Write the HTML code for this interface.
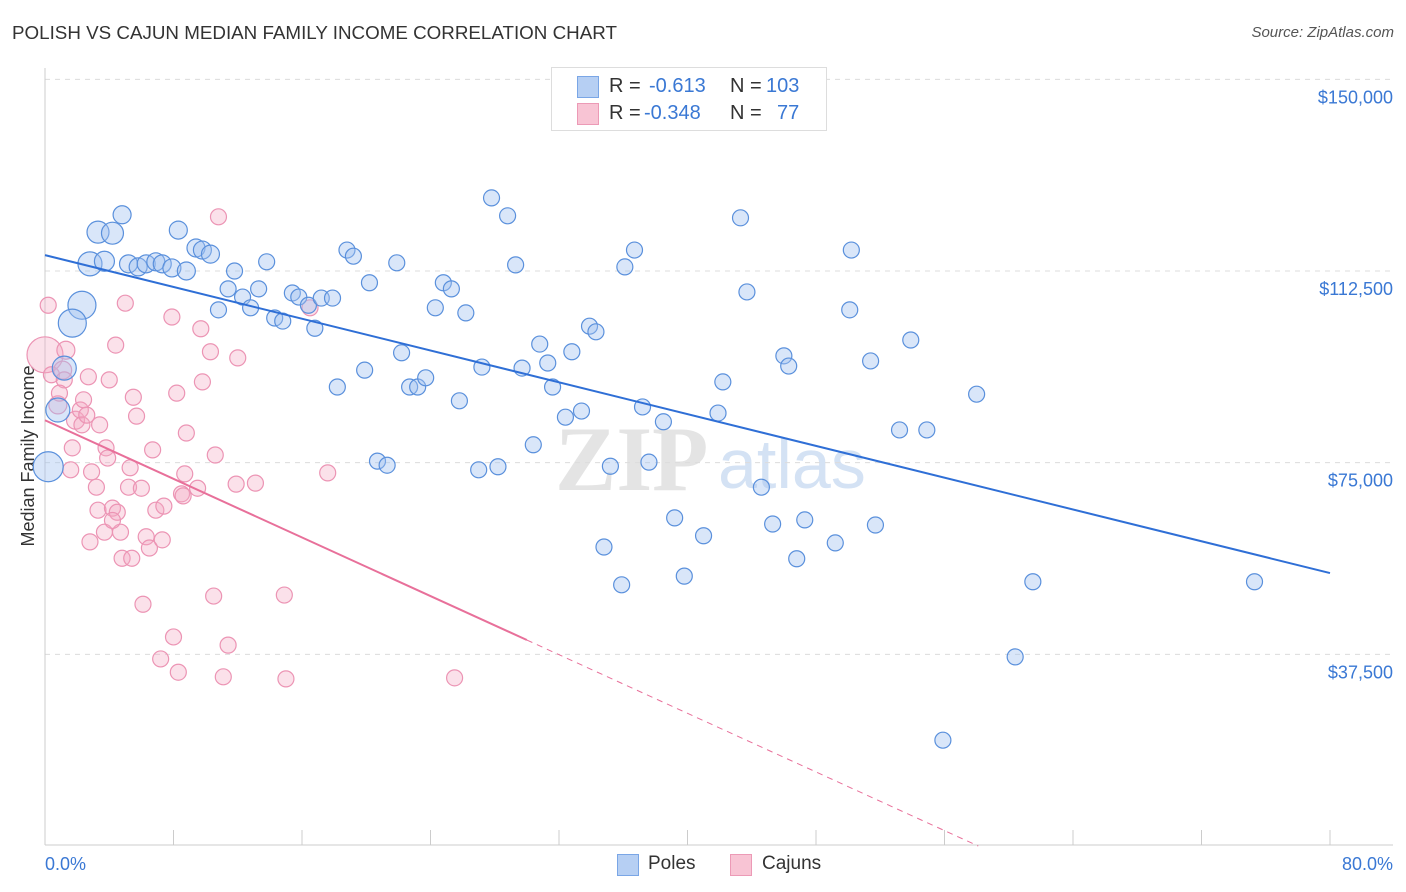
<!DOCTYPE html>
<html><head><meta charset="utf-8"><style>
body{margin:0;background:#fff;font-family:"Liberation Sans",sans-serif;}
#wrap{position:relative;width:1406px;height:892px;overflow:hidden;}
.t{position:absolute;white-space:nowrap;}
</style></head><body><div id="wrap">
<div class="t" style="left:12px;top:22px;font-size:18.8px;color:#333;">POLISH VS CAJUN MEDIAN FAMILY INCOME CORRELATION CHART</div>
<div class="t" style="right:12px;top:24px;font-size:15px;color:#555;font-style:italic;">Source: ZipAtlas.com</div>
<svg id="svg" width="1406" height="892" style="position:absolute;left:0;top:0"></svg>
</div>
<script>
const polesX=[0.2,0.8,1.2,2.3,1.7,2.8,3.3,4.2,3.7,4.8,5.2,5.8,6.3,6.9,7.3,7.9,8.3,8.8,9.4,9.8,10.3,10.8,11.4,11.8,12.3,12.8,13.3,13.8,14.3,14.8,15.4,15.8,16.4,16.8,17.2,17.9,18.2,18.8,19.2,19.9,20.2,20.7,21.3,21.9,22.2,22.7,23.2,23.7,24.3,24.8,25.3,25.8,26.2,27.0,27.2,27.8,28.2,28.8,29.3,29.7,30.4,30.8,31.3,31.6,32.4,32.8,33.4,33.9,34.3,34.8,35.2,35.9,36.1,36.7,37.2,37.6,38.5,39.2,39.8,41.0,41.9,42.2,43.3,43.7,44.6,45.3,46.0,46.3,46.8,47.3,49.2,50.1,50.2,51.4,51.7,53.2,53.9,54.9,55.9,58.0,60.4,61.5,75.3];
const polesY=[74.2,85.3,93.5,105.8,102.3,113.9,120.1,119.9,114.4,123.5,113.9,113.3,113.9,114.3,113.9,113.1,120.5,112.5,117.0,116.6,115.8,104.9,109.0,112.5,107.4,105.3,109.0,114.3,103.3,102.7,108.2,107.4,105.8,101.3,107.2,107.2,89.8,116.6,115.4,93.1,110.2,75.3,74.5,114.1,96.5,89.8,89.8,91.6,105.3,110.2,109.0,87.1,104.3,73.6,93.7,126.8,74.2,123.3,113.7,93.5,78.5,98.2,94.5,89.8,83.9,96.7,85.1,101.7,100.6,58.5,74.3,51.1,113.3,116.6,85.9,75.1,83.0,64.2,52.8,60.7,84.7,90.8,122.9,108.4,70.2,63.0,95.9,93.9,56.2,63.8,59.3,104.9,116.6,94.9,62.8,81.4,99.0,81.4,20.7,88.4,37.0,51.7,51.7];
const polesW=[15,12,12,14,14,12,11,11,10,9,9,9,9,9,9,9,9,9,9,9,9];
const cajX=[0,0.2,0.4,0.8,1.1,1.3,1.6,1.9,2.2,2.3,2.7,2.8,2.9,3.2,3.3,3.7,3.8,3.9,4.0,4.2,4.4,4.5,4.7,4.8,5.0,5.2,5.3,5.4,5.5,5.7,6.0,6.1,6.3,6.5,6.7,6.9,7.3,7.4,7.2,7.9,8.0,8.2,8.3,8.5,8.6,8.7,8.8,9.5,9.7,9.8,10.3,10.5,10.6,10.8,11.1,11.4,11.9,12.0,13.1,14.9,15.0,16.5,17.6,25.5,1.2,3.4,2.4,1.7,0.9,4.2,2.6];
const cajY=[96.1,105.8,92.2,86.3,93.1,97.0,73.6,83.3,85.3,82.4,91.8,59.5,73.2,70.2,65.7,61.4,77.9,75.9,91.2,66.1,98.0,65.3,61.4,56.3,106.2,70.2,74.0,56.3,87.8,84.1,70.0,47.3,60.5,58.3,77.5,65.7,59.9,66.5,36.6,103.5,40.9,88.6,34.0,68.9,68.5,72.8,80.8,70.0,101.2,90.8,96.7,48.9,76.5,123.1,33.1,39.3,70.8,95.5,71.0,49.1,32.7,105.3,73.0,32.9,91.2,82.4,87.3,77.9,88.6,63.7,84.3];
const cajW=[18,8,8,9,9,9,8,9];
const yTicks=[37.5,75,112.5,150];
const yTickLabels=["$37,500","$75,000","$112,500","$150,000"];
const blueTrend=[[0,115.6],[80,53.4]];
const pinkTrend=[[0,83.3],[30,40.3],[58.1,0]];

const X=v=>45+v/80*1285;
const Y=k=>846-k/0.19565;
const svg=document.getElementById('svg');
const NS='http://www.w3.org/2000/svg';
function mk(tag,attrs,parent){const e=document.createElementNS(NS,tag);for(const k in attrs)e.setAttribute(k,attrs[k]);(parent||svg).appendChild(e);return e;}
let wm=mk('text',{x:555,y:490,'font-size':92,fill:'#e4e4e4','font-family':'Liberation Serif, serif','font-weight':'bold'});wm.textContent='ZIP';


let wm2=mk('text',{x:718,y:488,'font-size':70,fill:'#d4e2f4','font-family':'Liberation Sans, sans-serif'});wm2.textContent='atlas';


yTicks.forEach((t,i)=>{
 let g=mk('line',{x1:45,x2:1393,y1:Y(t),y2:Y(t),stroke:'#dcdcdc','stroke-dasharray':'5,5'});
 
 
 let l=mk('text',{x:1393,y:Y(t)+24,'text-anchor':'end','font-size':18,fill:'#3a78d4'});l.textContent=yTickLabels[i];
 
 
});
let ax=mk('line',{x1:45,x2:1393,y1:845,y2:845,stroke:'#ccc'});


let ay=mk('line',{x1:45,x2:45,y1:68,y2:845,stroke:'#ccc'});


for(let i=0;i<=10;i++){let tk=mk('line',{x1:X(i*8),x2:X(i*8),y1:830,y2:845,stroke:'#ccc'});
 
 }
let xl0=mk('text',{x:45,y:870,'font-size':18,fill:'#3a78d4'});xl0.textContent='0.0%';


let xl1=mk('text',{x:1393,y:870,'text-anchor':'end','font-size':18,fill:'#3a78d4'});xl1.textContent='80.0%';


let yt=mk('text',{x:34,y:456,'font-size':18,fill:'#333','text-anchor':'middle',transform:'rotate(-90 34 456)'});yt.textContent='Median Family Income';


cajX.forEach((v,i)=>{let c=mk('circle',{cx:X(v),cy:Y(cajY[i]),r:cajW[i]||8,fill:'rgba(244,170,196,0.35)',stroke:'#ec94b4','stroke-width':1.2});
 
 });
polesX.forEach((v,i)=>{let c=mk('circle',{cx:X(v),cy:Y(polesY[i]),r:polesW[i]||8,fill:'rgba(160,192,240,0.4)',stroke:'#5a90dc','stroke-width':1.2});
 
 });
let bl=mk('line',{x1:X(blueTrend[0][0]),y1:Y(blueTrend[0][1]),x2:X(blueTrend[1][0]),y2:Y(blueTrend[1][1]),stroke:'#2f6fd6','stroke-width':2});


let pl=mk('line',{x1:X(pinkTrend[0][0]),y1:Y(pinkTrend[0][1]),x2:X(pinkTrend[1][0]),y2:Y(pinkTrend[1][1]),stroke:'#e8709a','stroke-width':2});


let pd=mk('line',{x1:X(pinkTrend[1][0]),y1:Y(pinkTrend[1][1]),x2:X(pinkTrend[2][0]),y2:Y(pinkTrend[2][1]),stroke:'#e8709a','stroke-width':1,'stroke-dasharray':'6,5'});


</script>
<div class="t" style="left:551px;top:67px;width:274px;height:62px;border:1px solid #ddd;background:#fff;font-size:20px;">
 <div style="position:absolute;left:25px;top:8px;width:20px;height:20px;background:#b6cff3;border:1px solid #7aa6e6"></div>
 <div style="position:absolute;left:57px;top:7px;color:#333">R = </div><div style="position:absolute;left:97px;top:7px;color:#3a78d4">-0.613</div>
 <div style="position:absolute;left:178px;top:7px;color:#333">N = </div><div style="position:absolute;left:214px;top:7px;color:#3a78d4">103</div>
 <div style="position:absolute;left:25px;top:35px;width:20px;height:20px;background:#f8c4d4;border:1px solid #ec9ab6"></div>
 <div style="position:absolute;left:57px;top:34px;color:#333">R = </div><div style="position:absolute;left:92px;top:34px;color:#3a78d4">-0.348</div>
 <div style="position:absolute;left:178px;top:34px;color:#333">N = </div><div style="position:absolute;left:225px;top:34px;color:#3a78d4">77</div>
</div>
<div class="t" style="left:617px;top:854px;width:20px;height:20px;background:#b6cff3;border:1px solid #7aa6e6"></div>
<div class="t" style="left:648px;top:853px;font-size:19px;color:#333">Poles</div>
<div class="t" style="left:730px;top:854px;width:20px;height:20px;background:#f8c4d4;border:1px solid #ec9ab6"></div>
<div class="t" style="left:762px;top:853px;font-size:19px;color:#333">Cajuns</div>
</body></html>
